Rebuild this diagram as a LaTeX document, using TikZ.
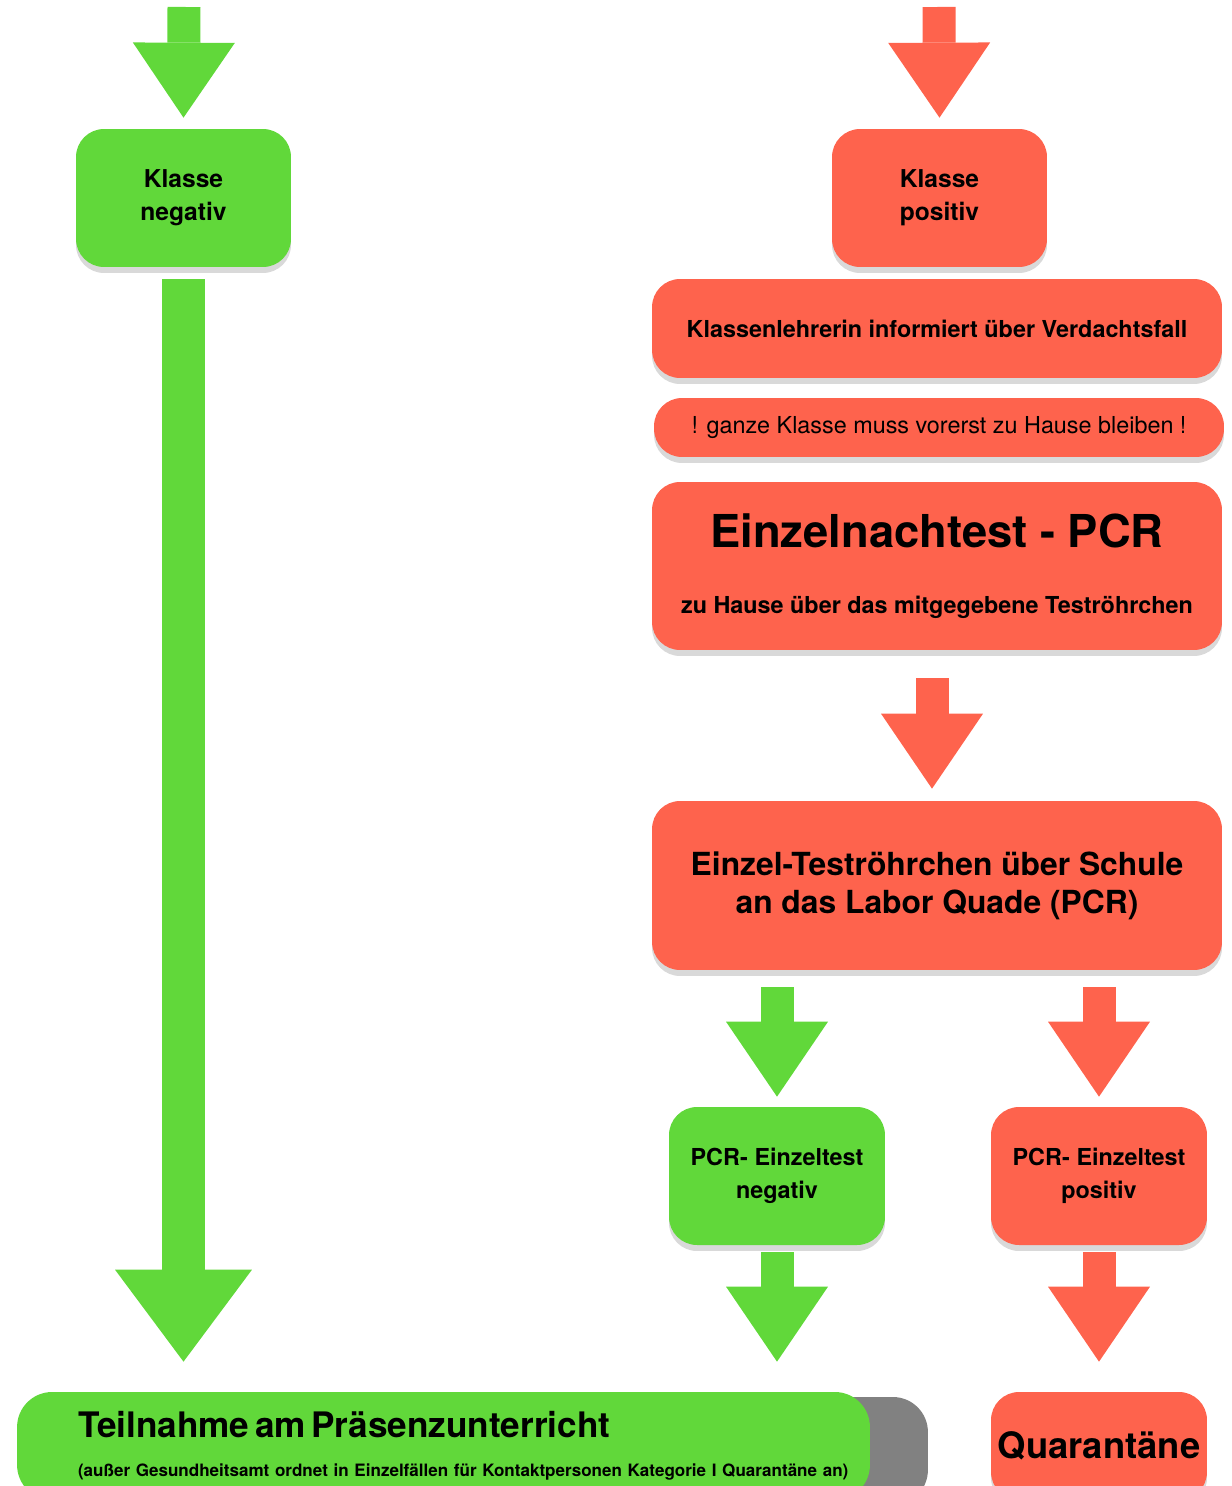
\documentclass[tikz,border=0pt]{standalone}
\usepackage{fontspec}
\setmainfont{TeX Gyre Heros}
\usetikzlibrary{arrows.meta,shadows}
\definecolor{okgreen}{RGB}{97,216,58}
\definecolor{alertred}{RGB}{254,99,77}

\begin{document}
\begin{tikzpicture}[
    x=0.02cm, y=-0.02cm,
    box/.style={rounded corners=0.56cm, align=center, inner sep=0, text=black},
    lift/.style={drop shadow={shadow xshift=0cm, shadow yshift=-0.12cm, opacity=0.3}},
    gbox/.style={box, lift, fill=okgreen},
    rbox/.style={box, lift, fill=alertred},
    flow/.style={line width=0.66cm, -{Triangle[width=2.04cm, length=1.5cm, line width=0pt 0]}},
    bigflow/.style={line width=0.88cm, -{Triangle[width=2.74cm, length=1.84cm, line width=0pt 0]}}
]
\useasboundingbox (0,0) rectangle (1231,1486);

\node[gbox, minimum width=4.3cm, minimum height=2.76cm, font=\fontsize{14}{18.7}\selectfont\bfseries] (kneg) at (183.5,198) {Klasse\\negativ};
\node[rbox, minimum width=4.3cm, minimum height=2.76cm, font=\fontsize{14}{18.7}\selectfont\bfseries] (kpos) at (939.5,198) {Klasse\\positiv};
\node[rbox, minimum width=11.4cm, minimum height=1.98cm, font=\fontsize{13.3}{16}\selectfont\bfseries] (lehrer) at (937,328.5) {Klassenlehrerin informiert über Verdachtsfall};
\node[rbox, minimum width=11.4cm, minimum height=1.18cm, font=\fontsize{13.3}{16}\selectfont] (haus) at (939,427.5) {! ganze Klasse muss vorerst zu Hause bleiben !};
\node[rbox, minimum width=11.4cm, minimum height=3.36cm, font=\fontsize{13.3}{37.7}\selectfont\bfseries] (pcr) at (937,566) {{\fontsize{25.8}{31}\selectfont Einzelnachtest - PCR}\\zu Hause über das mitgegebene Teströhrchen};
\node[rbox, minimum width=11.4cm, minimum height=3.38cm, font=\fontsize{18.1}{21.5}\selectfont\bfseries] (labor) at (937,885.5) {Einzel-Teströhrchen über Schule\\an das Labor Quade (PCR)};
\node[gbox, minimum width=4.32cm, minimum height=2.76cm, font=\fontsize{13.3}{18.7}\selectfont\bfseries] (pneg) at (777,1176) {PCR- Einzeltest\\negativ};
\node[rbox, minimum width=4.32cm, minimum height=2.76cm, font=\fontsize{13.3}{18.7}\selectfont\bfseries] (ppos) at (1099,1176) {PCR- Einzeltest\\positiv};
\node[box, fill=okgreen, rounded corners=0.7cm, drop shadow={shadow xshift=1.16cm, shadow yshift=-0.1cm, fill=gray!90!black, opacity=0.9},
    minimum width=17.06cm, minimum height=2.16cm, text width=17.06cm, align=left,
    font=\fontsize{9.7}{22}\selectfont\bfseries] (teil) at (443.5,1446)
    {\hspace*{1.22cm}{\fontsize{20}{24}\selectfont Teilnahme am Präsenzunterricht}\\
     \hspace*{1.22cm}(außer Gesundheitsamt ordnet in Einzelfällen für Kontaktpersonen Kategorie I Quarantäne an)};
\node[rbox, minimum width=4.32cm, minimum height=2.16cm, font=\fontsize{20.7}{24}\selectfont\bfseries] (quar) at (1099,1446) {Quarantäne};

\coordinate (gtop) at (184,7);
\coordinate (rtop) at (939,7);
\draw[flow, okgreen] (gtop) -- ([yshift=0.22cm]kneg.north);
\draw[flow, alertred] (rtop) -- ([yshift=0.22cm]kpos.north);
\draw[bigflow, okgreen] ([yshift=-0.24cm]kneg.south) -- ([yshift=0.6cm]kneg.south |- teil.north);
\draw[flow, alertred] ([xshift=-0.1cm, yshift=-0.56cm]pcr.south) -- ([xshift=-0.1cm, yshift=0.24cm]labor.north);
\draw[flow, okgreen] ([yshift=-0.34cm]pneg.north |- labor.south) -- ([yshift=0.2cm]pneg.north);
\draw[flow, alertred] ([yshift=-0.34cm]ppos.north |- labor.south) -- ([yshift=0.2cm]ppos.north);
\draw[flow, okgreen] ([yshift=-0.14cm]pneg.south) -- ([yshift=0.6cm]pneg.south |- teil.north);
\draw[flow, alertred] ([yshift=-0.14cm]ppos.south) -- ([yshift=0.6cm]quar.north);

\end{tikzpicture}
\end{document}
